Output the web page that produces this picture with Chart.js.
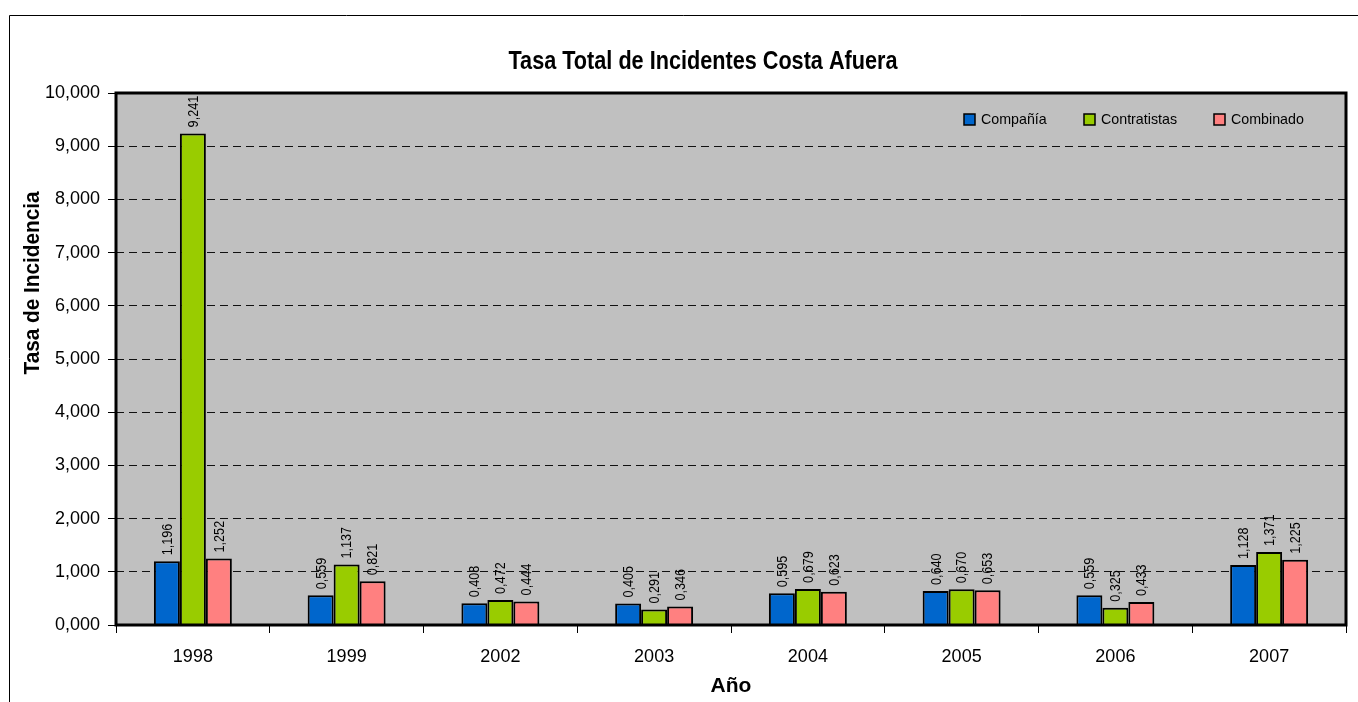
<!DOCTYPE html>
<html>
<head>
<meta charset="utf-8">
<title>Tasa Total de Incidentes Costa Afuera</title>
<script src="https://cdn.jsdelivr.net/npm/chart.js@4/dist/chart.umd.min.js"></script>
<style>
    html, body { margin: 0; padding: 0; background: #fff; }
    #wrap { width: 1358px; height: 702px; position: relative; }
</style>
</head>
<body>
<div id="wrap"><canvas id="incidentChart"></canvas></div>
<script>
// datos
const years = ['1998', '1999', '2002', '2003', '2004', '2005', '2006', '2007'];
const compania = [1.196, 0.559, 0.408, 0.405, 0.595, 0.640, 0.559, 1.128];
const contratistas = [9.241, 1.137, 0.472, 0.291, 0.679, 0.670, 0.325, 1.371];
const combinado = [1.252, 0.821, 0.444, 0.346, 0.623, 0.653, 0.433, 1.225];
const yTicks = [0, 1, 2, 3, 4, 5, 6, 7, 8, 9, 10];

const FONT = "'Liberation Sans Narrow', 'Arial Narrow', 'Liberation Sans', Arial, sans-serif";

function fmt(v) {
    return v.toFixed(3).replace('.', ',');
}

// texto un poco estrechado, para parecerse a Arial Narrow
function narrowText(ctx, text, x, y, sx) {
    ctx.save();
    ctx.translate(x, y);
    ctx.scale(sx, 1);
    ctx.fillText(text, 0, 0);
    ctx.restore();
}

// fondo gris, borde, etiquetas, leyenda y titulos
const decoPlugin = {
    id: 'deco',
    beforeDraw(chart) {
        const { ctx, chartArea: a } = chart;
        ctx.save();
        ctx.fillStyle = '#C0C0C0';
        ctx.fillRect(a.left, a.top, a.right - a.left, a.bottom - a.top);
        // marco exterior
        ctx.strokeStyle = '#000';
        ctx.lineWidth = 1;
        ctx.beginPath();
        ctx.moveTo(9.5, 702);
        ctx.lineTo(9.5, 15.5);
        ctx.lineTo(1358, 15.5);
        ctx.stroke();
        ctx.restore();
    },
    afterDatasetsDraw(chart) {
        const { ctx, chartArea: a } = chart;
        ctx.save();
        ctx.strokeStyle = '#000';
        ctx.lineWidth = 3;
        ctx.strokeRect(a.left, a.top, a.right - a.left, a.bottom - a.top);

        // valores sobre las barras
        ctx.fillStyle = '#000';
        ctx.font = '14px ' + FONT;
        ctx.textAlign = 'left';
        ctx.textBaseline = 'middle';
        chart.data.datasets.forEach((ds, i) => {
            chart.getDatasetMeta(i).data.forEach((bar, j) => {
                ctx.save();
                ctx.translate(bar.x + 1, bar.y - 6);
                ctx.rotate(-Math.PI / 2);
                narrowText(ctx, fmt(ds.data[j]), 0, 0, 0.9);
                ctx.restore();
            });
        });

        // leyenda
        const legendX = [964, 1084, 1214];
        ctx.font = '15px ' + FONT;
        chart.data.datasets.forEach((ds, i) => {
            const x = legendX[i];
            ctx.fillStyle = ds.backgroundColor;
            ctx.fillRect(x, 114, 11, 11);
            ctx.lineWidth = 1.5;
            ctx.strokeStyle = '#000';
            ctx.strokeRect(x, 114, 11, 11);
            ctx.fillStyle = '#000';
            narrowText(ctx, ds.label, x + 17, 120, 0.95);
        });
        ctx.restore();
    },
    afterDraw(chart) {
        const { ctx } = chart;
        ctx.save();
        ctx.fillStyle = '#000';
        ctx.textAlign = 'center';
        ctx.textBaseline = 'middle';
        // titulo principal
        ctx.font = 'bold 26px ' + FONT;
        const title = 'Tasa Total de Incidentes Costa Afuera';
        narrowText(ctx, title, 703, 62, 389 / ctx.measureText(title).width);
        // titulo del eje y
        ctx.font = 'bold 22px ' + FONT;
        const yTitle = 'Tasa de Incidencia';
        ctx.translate(33, 283);
        ctx.rotate(-Math.PI / 2);
        narrowText(ctx, yTitle, 0, 0, 183 / ctx.measureText(yTitle).width);
        ctx.restore();
    }
};

const ctx = document.getElementById('incidentChart').getContext('2d');
const incidentChart = new Chart(ctx, {
    type: 'bar',
    data: {
        labels: years,
        datasets: [{
            label: 'Compañía',
            data: compania,
            backgroundColor: '#0066CC',
            borderColor: '#000',
            borderWidth: 2
        }, {
            label: 'Contratistas',
            data: contratistas,
            backgroundColor: '#99CC00',
            borderColor: '#000',
            borderWidth: 2
        }, {
            label: 'Combinado',
            data: combinado,
            backgroundColor: '#FF8080',
            borderColor: '#000',
            borderWidth: 2
        }]
    },
    options: {
        responsive: true,
        maintainAspectRatio: false,
        animation: false,
        layout: { padding: { top: 93, right: 12, left: 0, bottom: 0 } },
        datasets: { bar: { categoryPercentage: 0.507, barPercentage: 1 } },
        plugins: {
            legend: { display: false },
            tooltip: { enabled: false }
        },
        scales: {
            x: {
                grid: { display: true, drawOnChartArea: false, drawTicks: true, tickLength: 8, color: '#000', offset: true },
                border: { display: false },
                ticks: { color: '#000', font: { size: 18, family: FONT }, padding: 13, maxRotation: 0 },
                title: { display: true, text: 'Año', color: '#000', font: { size: 21, weight: 'bold', family: FONT }, padding: { top: 0, bottom: 3 } },
                afterFit(scale) { scale.height = 77; }
            },
            y: {
                min: 0,
                max: 10,
                afterBuildTicks(scale) { scale.ticks = yTicks.map(v => ({ value: v })); },
                grid: { color: '#111', lineWidth: 1, tickLength: 8, tickColor: '#000', tickBorderDash: [] },
                border: { display: false, dash: [8, 5] },
                ticks: { color: '#000', font: { size: 18, family: FONT }, padding: 8, callback: v => fmt(v) },
                afterFit(scale) { scale.width = 116; }
            }
        }
    },
    plugins: [decoPlugin]
});
</script>
</body>
</html>
